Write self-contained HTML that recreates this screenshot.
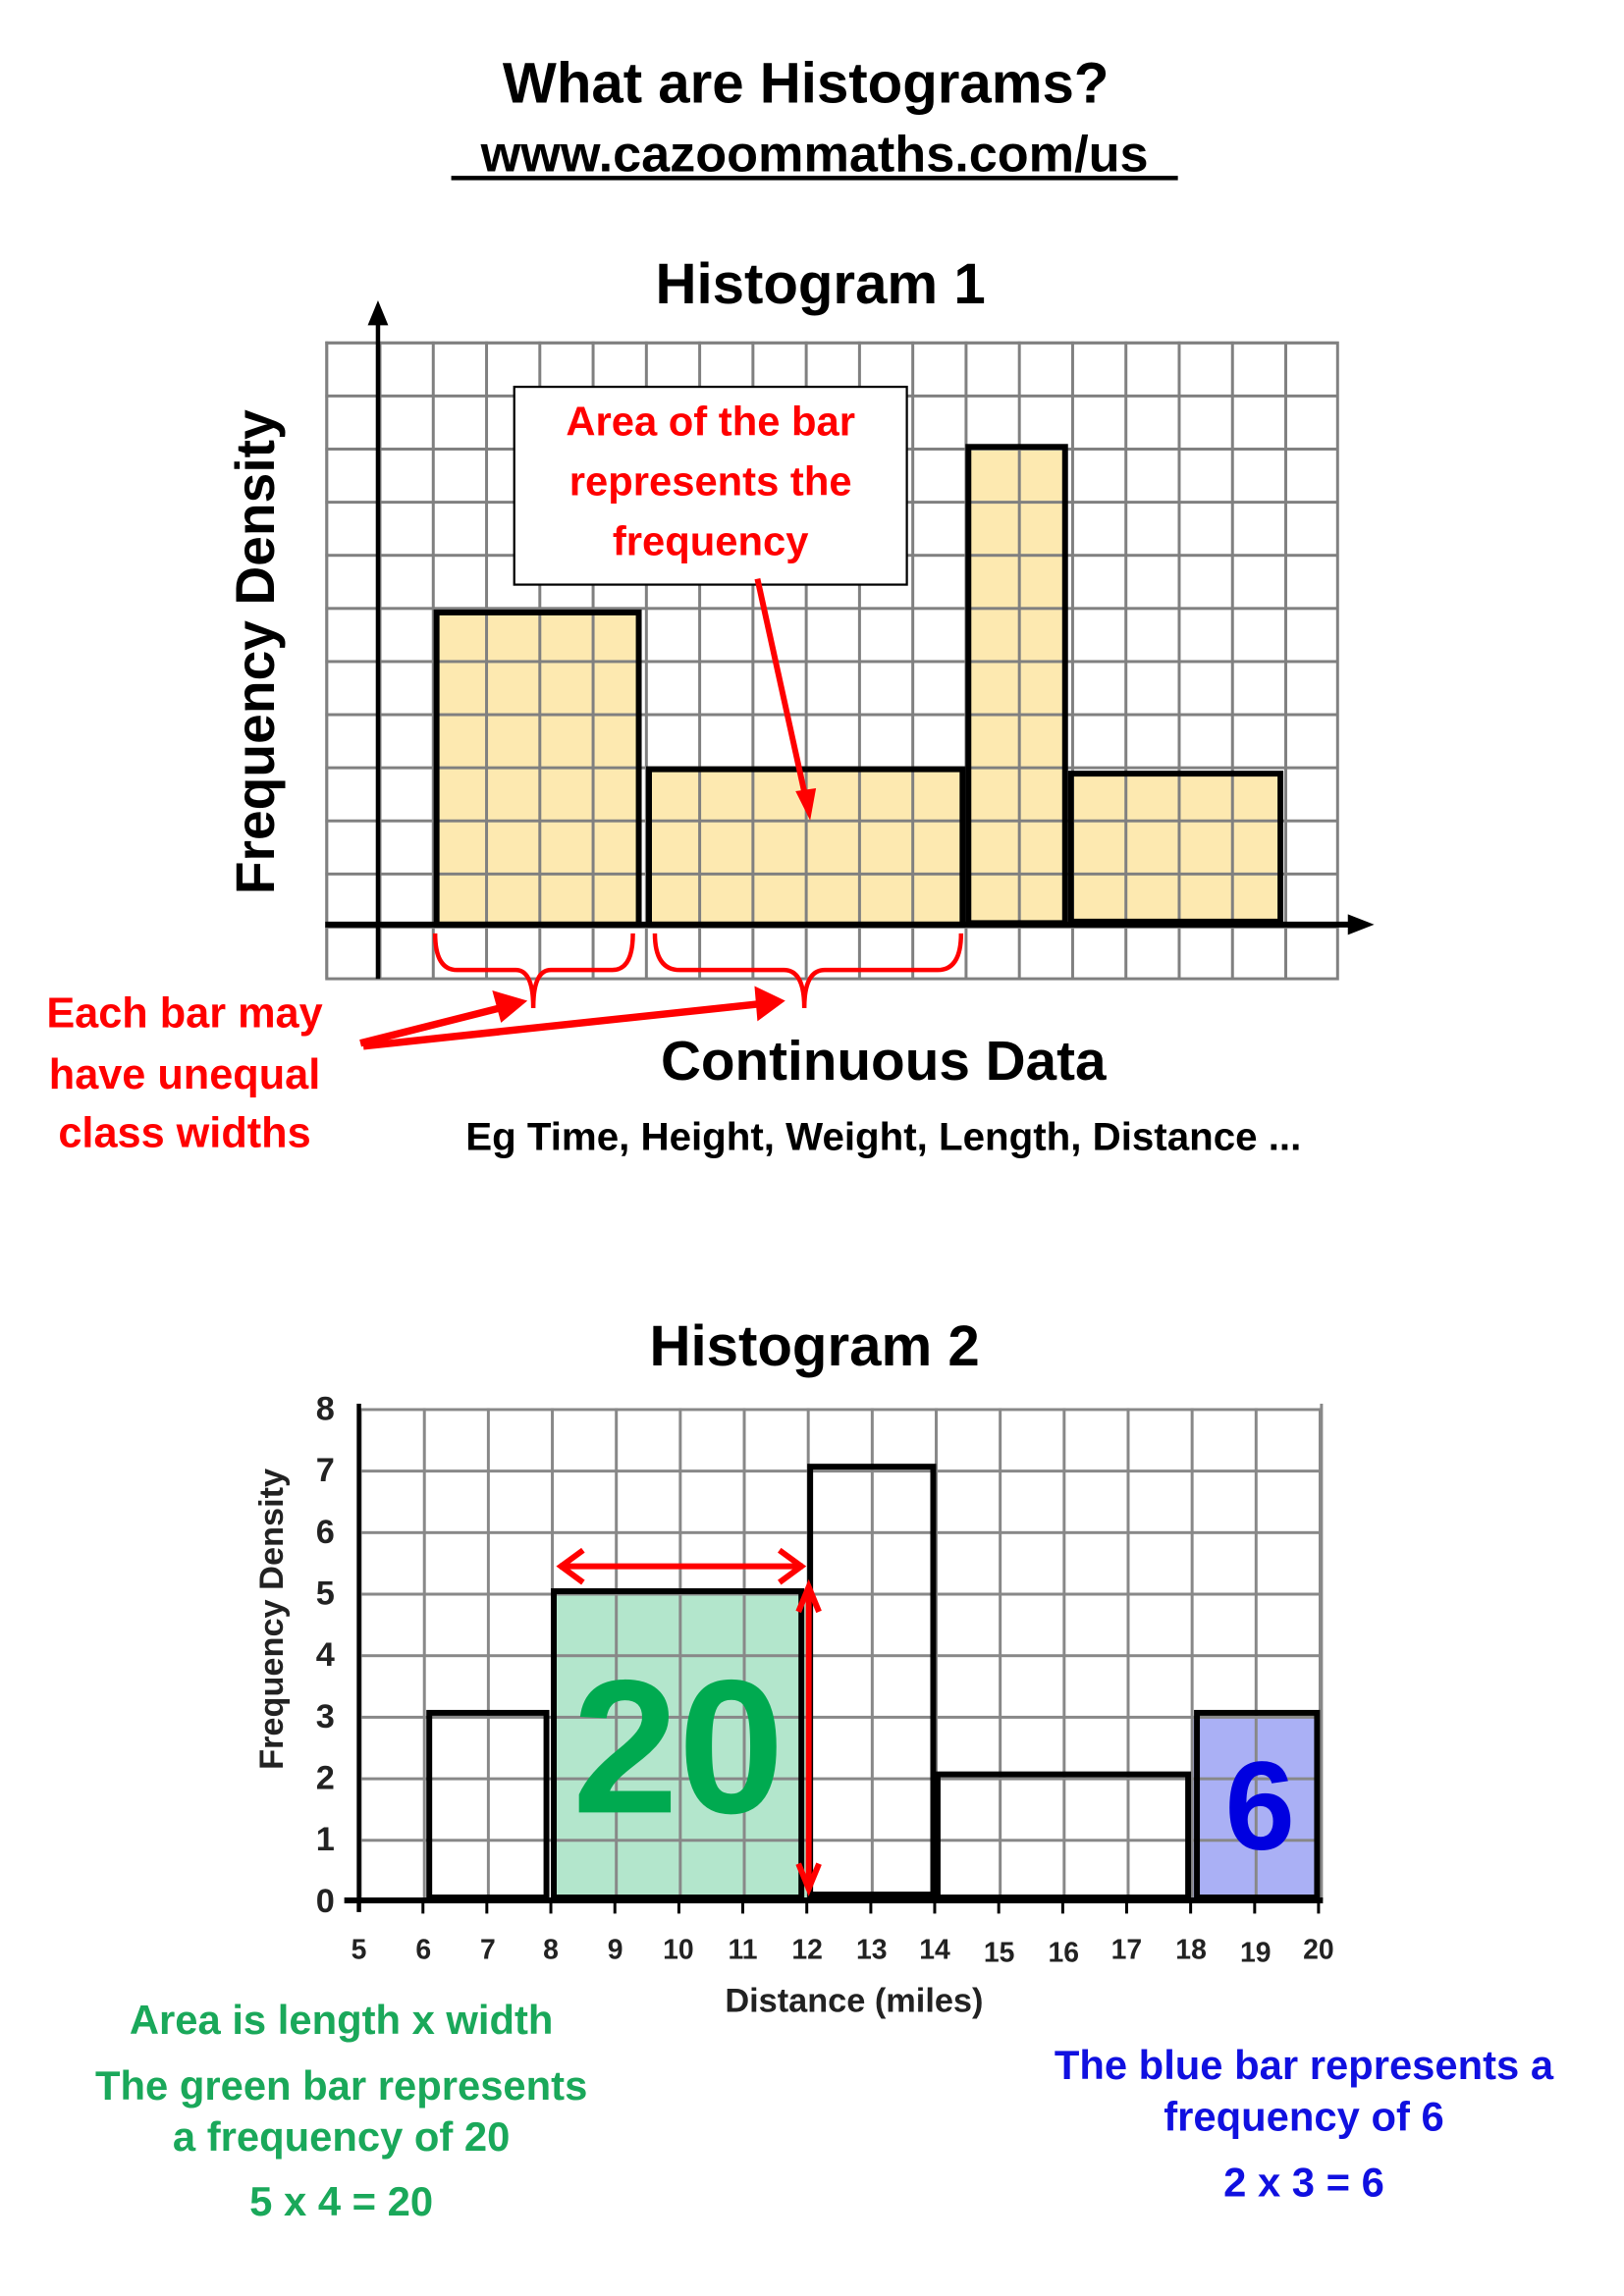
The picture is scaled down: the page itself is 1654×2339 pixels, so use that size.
<!DOCTYPE html>
<html><head><meta charset="utf-8"><style>
html,body{margin:0;padding:0;background:#fff}
svg{display:block}
text{font-family:"Liberation Sans",sans-serif;font-weight:bold}
</style></head><body>
<svg width="1654" height="2339" viewBox="0 0 1108.5 1567" preserveAspectRatio="none">
<defs>
<pattern id="g1" x="222" y="233" width="36.368" height="36.25" patternUnits="userSpaceOnUse">
<rect x="0" y="0" width="2" height="36.25" fill="#808080"/><rect x="0" y="0" width="36.368" height="2" fill="#808080"/>
</pattern>
<pattern id="g2" x="245" y="961" width="43.67" height="42" patternUnits="userSpaceOnUse">
<rect x="0" y="0" width="2" height="42" fill="#888"/><rect x="0" y="0" width="43.67" height="2" fill="#888"/>
</pattern>
</defs>
<rect width="1108.5" height="1567" fill="#fff"/>
<text x="550" y="70" font-size="39" text-anchor="middle">What are Histograms?</text>
<text x="556" y="117" font-size="35" text-anchor="middle">www.cazoommaths.com/us</text>
<rect x="308" y="120" width="496" height="3" fill="#000"/>
<text x="560" y="207" font-size="39" text-anchor="middle">Histogram 1</text>
<g fill="#fde9b0">
<rect x="296" y="416" width="140" height="215"/>
<rect x="441" y="523" width="216" height="108"/>
<rect x="660" y="304" width="67" height="327"/>
<rect x="730" y="527" width="145" height="104"/>
</g>
<rect x="222" y="233" width="691" height="435" fill="url(#g1)"/>
<rect x="223" y="234" width="690" height="434" fill="none" stroke="#808080" stroke-width="2"/>
<g fill="none" stroke="#000" stroke-width="4">
<rect x="298" y="418" width="138" height="213"/>
<rect x="443" y="525" width="214" height="106"/>
<rect x="661" y="305" width="66" height="325"/>
<rect x="731" y="528" width="143" height="101"/>
</g>
<line x1="258" y1="668" x2="258" y2="220" stroke="#000" stroke-width="3"/>
<path d="M258,205 L251,222 L265,222 z" fill="#000"/>
<line x1="222" y1="631" x2="922" y2="631" stroke="#000" stroke-width="4"/>
<path d="M938,631 L920,624 L920,638 z" fill="#000"/>
<text transform="translate(187,445) rotate(-90)" font-size="37" text-anchor="middle">Frequency Density</text>
<rect x="351" y="264" width="268" height="135" fill="#fff" stroke="#000" stroke-width="1.5"/>
<g fill="#f00" font-size="28" text-anchor="middle">
<text x="485" y="297">Area of the bar</text>
<text x="485" y="338">represents the</text>
<text x="485" y="379">frequency</text>
</g>
<line x1="517" y1="395" x2="550" y2="545" stroke="#f00" stroke-width="4"/>
<path d="M553,560 L543,540 L557,538 z" fill="#f00"/>
<g fill="none" stroke="#f00" stroke-width="3">
<path d="M297,637 Q297,662 312,662 L352,662 Q364,662 364,688 Q364,662 376,662 L418,662 Q432,662 432,637"/>
<path d="M447,637 Q447,662 464,662 L535,662 Q549,662 549,688 Q549,662 563,662 L640,662 Q656,662 656,637"/>
</g>
<g stroke="#f00" stroke-width="5" fill="none">
<line x1="246" y1="712" x2="345" y2="687"/>
<line x1="248" y1="714" x2="520" y2="685"/>
</g>
<path d="M360,683 L336,676 L342,698 z" fill="#f00"/>
<path d="M536,683 L515,673 L517,697 z" fill="#f00"/>
<g fill="#f00" font-size="29" text-anchor="middle">
<text x="126" y="701">Each bar may</text>
<text x="126" y="743">have unequal</text>
<text x="126" y="783">class widths</text>
</g>
<text x="603" y="737" font-size="38" text-anchor="middle">Continuous Data</text>
<text x="603" y="785" font-size="27" text-anchor="middle">Eg Time, Height, Weight, Length, Distance ...</text>
<text x="556" y="932" font-size="39" text-anchor="middle">Histogram 2</text>
<rect x="376" y="1087" width="175" height="210" fill="#b3e6cc"/>
<rect x="813" y="1171" width="87" height="126" fill="#aab0f5"/>
<rect x="245" y="961" width="657" height="336" fill="url(#g2)"/>
<line x1="902" y1="958" x2="902" y2="1297" stroke="#888" stroke-width="2"/>
<g fill="none" stroke="#000" stroke-width="4">
<rect x="293" y="1169" width="80" height="126"/>
<rect x="378" y="1086" width="169" height="209"/>
<rect x="553" y="1001" width="84" height="292"/>
<rect x="640" y="1211" width="171" height="84"/>
<rect x="817" y="1169" width="82" height="126"/>
</g>
<line x1="245" y1="958" x2="245" y2="1305" stroke="#000" stroke-width="3"/>
<line x1="235" y1="1297" x2="903" y2="1297" stroke="#000" stroke-width="4"/>
<g stroke="#000" stroke-width="2">
<line x1="288.7" y1="1297" x2="288.7" y2="1306"/><line x1="332.3" y1="1297" x2="332.3" y2="1306"/><line x1="376" y1="1297" x2="376" y2="1306"/><line x1="419.7" y1="1297" x2="419.7" y2="1306"/><line x1="463.4" y1="1297" x2="463.4" y2="1306"/><line x1="507" y1="1297" x2="507" y2="1306"/><line x1="550.7" y1="1297" x2="550.7" y2="1306"/><line x1="594.4" y1="1297" x2="594.4" y2="1306"/><line x1="638" y1="1297" x2="638" y2="1306"/><line x1="681.7" y1="1297" x2="681.7" y2="1306"/><line x1="725.4" y1="1297" x2="725.4" y2="1306"/><line x1="769" y1="1297" x2="769" y2="1306"/><line x1="812.7" y1="1297" x2="812.7" y2="1306"/><line x1="856.4" y1="1297" x2="856.4" y2="1306"/><line x1="900" y1="1297" x2="900" y2="1306"/>
</g>
<g font-size="19" fill="#222" text-anchor="middle">
<text x="245" y="1337">5</text><text x="289" y="1337">6</text><text x="333" y="1337">7</text><text x="376" y="1337">8</text><text x="420" y="1337">9</text><text x="463" y="1337">10</text><text x="507" y="1337">11</text><text x="551" y="1337">12</text><text x="595" y="1337">13</text><text x="638" y="1337">14</text><text x="682" y="1339">15</text><text x="726" y="1339">16</text><text x="769" y="1337">17</text><text x="813" y="1337">18</text><text x="857" y="1339">19</text><text x="900" y="1337">20</text>
</g>
<g font-size="23" fill="#222" text-anchor="middle">
<text x="222" y="1305">0</text><text x="222" y="1263">1</text><text x="222" y="1221">2</text><text x="222" y="1179">3</text><text x="222" y="1137">4</text><text x="222" y="1095">5</text><text x="222" y="1053">6</text><text x="222" y="1011">7</text><text x="222" y="969">8</text>
</g>
<text x="583" y="1373" font-size="23" fill="#222" text-anchor="middle">Distance (miles)</text>
<text transform="translate(193,1105) rotate(-90)" font-size="23" fill="#222" text-anchor="middle">Frequency Density</text>
<text x="463" y="1237" font-size="130" fill="#00aa50" text-anchor="middle">20</text>
<text x="860" y="1262" font-size="86" fill="#0000e0" text-anchor="middle">6</text>
<g stroke="#f00" stroke-width="4" fill="none">
<line x1="382" y1="1069" x2="548" y2="1069"/>
<path d="M398,1058 L383,1069 L398,1080"/><path d="M532,1058 L547,1069 L532,1080"/>
<line x1="552" y1="1083" x2="552" y2="1290"/>
<path d="M545,1100 L552,1083 L559,1100"/><path d="M545,1272 L552,1289 L559,1272"/>
</g>
<g fill="#1aa85a" font-size="28" text-anchor="middle">
<text x="233" y="1388">Area is length x width</text>
<text x="233" y="1433">The green bar represents</text>
<text x="233" y="1468">a frequency of 20</text>
<text x="233" y="1512">5 x 4 = 20</text>
</g>
<g fill="#1010e0" font-size="28" text-anchor="middle">
<text x="890" y="1419">The blue bar represents a</text>
<text x="890" y="1454">frequency of 6</text>
<text x="890" y="1499">2 x 3 = 6</text>
</g>
</svg>
</body></html>
